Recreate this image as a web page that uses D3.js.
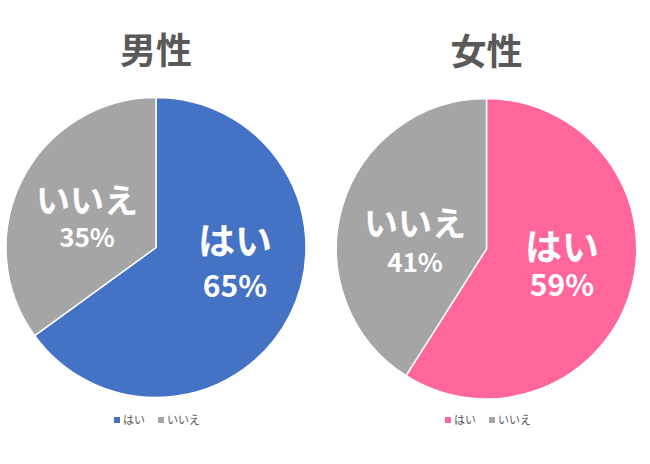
<!DOCTYPE html>
<html><head><meta charset="utf-8">
<script src="https://cdn.jsdelivr.net/npm/d3@7"></script>
<style>
html,body{margin:0;padding:0;background:#fff;}
svg{display:block;font-family:"Noto Sans CJK JP","Noto Sans",sans-serif;}
</style></head>
<body><svg id="c" width="650" height="464"></svg>
<script>
// ---- data ----
const categories = ["はい", "いいえ"];
const titles = ["男性", "女性"];
const maleValues = [65, 35];
const femaleValues = [59, 41];
const valueLabels = [["65%", "35%"], ["59%", "41%"]];

// ---- layout ----
const charts = [
  {title: titles[0], values: maleValues, labels: valueLabels[0], cx: 156, cy: 247.5, r: 150,
   colors: ["#4472C4", "#A5A5A5"], titleY: 64,
   lab: [{x: 235, y1: 255, y2: 297, s1: 37, s2: 30}, {x: 87, y1: 213, y2: 247, s1: 34, s2: 26}],
   legX: 114},
  {title: titles[1], values: femaleValues, labels: valueLabels[1], cx: 486.5, cy: 248.8, r: 150.2,
   colors: ["#FF6699", "#A5A5A5"], titleY: 65,
   lab: [{x: 562, y1: 261, y2: 296, s1: 37, s2: 30}, {x: 415, y1: 236, y2: 272, s1: 34, s2: 26}],
   legX: 445}
];

const svg = d3.select("#c");
const pie = d3.pie().sort(null).value(d => d);

charts.forEach(ch => {
  const g = svg.append("g").attr("transform", `translate(${ch.cx},${ch.cy})`);
  const arc = d3.arc().innerRadius(0).outerRadius(ch.r);
  const arcs = pie(ch.values);
  g.selectAll("path").data(arcs).join("path")
    .attr("d", arc)
    .attr("fill", (d, i) => ch.colors[i])
    .attr("stroke", "#fff").attr("stroke-width", 1.5).attr("stroke-linejoin", "round");

  // title
  svg.append("text").attr("x", ch.cx).attr("y", ch.titleY)
    .attr("text-anchor", "middle").attr("font-size", 36).attr("font-weight", "bold")
    .attr("fill", "#595959").text(ch.title);

  // slice labels (one text element, two lines)
  arcs.forEach((a, i) => {
    const L = ch.lab[i];
    const t = svg.append("text").attr("text-anchor", "middle")
      .attr("font-weight", "bold").attr("fill", "#fff");
    t.append("tspan").attr("x", L.x).attr("y", L.y1).attr("font-size", L.s1).text(categories[i]);
    t.append("tspan").attr("x", L.x).attr("y", L.y2).attr("font-size", L.s2).text(ch.labels[i]);
  });

  // legend
  const lg = svg.append("g").attr("transform", `translate(${ch.legX},420)`);
  let x = 0;
  categories.forEach((c, i) => {
    lg.append("rect").attr("x", x).attr("y", -3).attr("width", 6).attr("height", 6).attr("fill", ch.colors[i]);
    const t = lg.append("text").attr("x", x + 9).attr("y", 4).attr("font-size", 11)
      .attr("fill", "#595959").text(c);
    x += 9 + t.node().getComputedTextLength() + 13;
  });
});
</script></body></html>
